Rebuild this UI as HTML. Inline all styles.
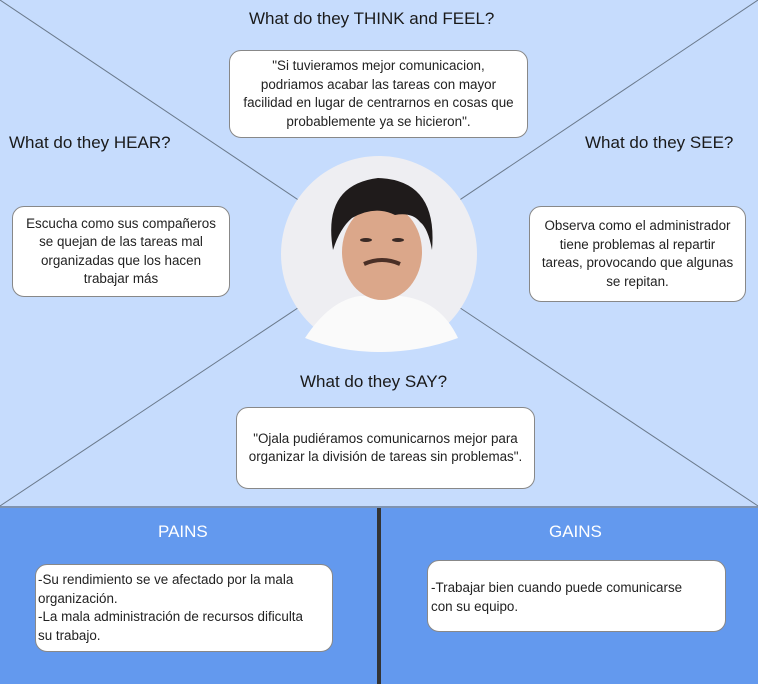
<!DOCTYPE html>
<html><head><style>
body{margin:0;width:758px;height:684px;overflow:hidden;font-family:"Liberation Sans",sans-serif;}
.t{position:absolute;font-size:17px;color:#1a1a1a;white-space:nowrap}
.b{position:absolute;background:#fff;border:1px solid #888;border-radius:12px;box-sizing:border-box;font-size:13.4px;color:#222;line-height:18.5px;display:flex;align-items:center;justify-content:center;text-align:center;white-space:nowrap}
.w{position:absolute;font-size:17px;color:#fff}
</style></head><body>
<div style="position:absolute;left:0;top:0;width:758px;height:508px;background:#c6dcfd;border-bottom:2px solid #7f93b0;box-sizing:border-box"></div>
<svg style="position:absolute;left:0;top:0" width="758" height="684">
<line x1="0" y1="0" x2="379" y2="254" stroke="#6b7a8c" stroke-width="1"/>
<line x1="758" y1="0" x2="379" y2="254" stroke="#6b7a8c" stroke-width="1"/>
<line x1="0" y1="506" x2="379" y2="254" stroke="#6b7a8c" stroke-width="1"/>
<line x1="758" y1="506" x2="379" y2="254" stroke="#6b7a8c" stroke-width="1"/>
<circle cx="379" cy="254" r="98" fill="#eeeef2"/>
<path d="M305 338 Q330 300 360 296 L400 296 Q440 300 458 338 Q420 352 379 352 Q340 352 305 338Z" fill="#fafafa"/>
<ellipse cx="382" cy="252" rx="40" ry="48" fill="#dba78a"/>
<path d="M333 250 Q322 185 378 178 Q438 180 432 250 Q428 228 420 222 Q412 212 395 215 Q375 205 352 218 Q340 228 333 250Z" fill="#1f1b1b"/>
<ellipse cx="366" cy="240" rx="6" ry="2" fill="#3a2a25"/>
<ellipse cx="398" cy="240" rx="6" ry="2" fill="#3a2a25"/>
<path d="M364 264 Q382 256 400 264" stroke="#4a2f26" stroke-width="4" fill="none"/>
</svg>
<div style="position:absolute;left:0;top:508px;width:758px;height:176px;background:#6399ee"></div>
<div style="position:absolute;left:377px;top:508px;width:4px;height:176px;background:#333"></div>
<div class="t" style="left:249px;top:9px">What do they THINK and FEEL?</div>
<div class="t" style="left:9px;top:133px">What do they HEAR?</div>
<div class="t" style="left:585px;top:133px">What do they SEE?</div>
<div class="t" style="left:300px;top:372px">What do they SAY?</div>
<div class="b" style="left:229px;top:50px;width:299px;height:88px">"Si tuvieramos mejor comunicacion,<br>podriamos acabar las tareas con mayor<br>facilidad en lugar de centrarnos en cosas que<br>probablemente ya se hicieron".</div>
<div class="b" style="left:12px;top:206px;width:218px;height:91px">Escucha como sus compañeros<br>se quejan de las tareas mal<br>organizadas que los hacen<br>trabajar más</div>
<div class="b" style="left:529px;top:206px;width:217px;height:96px">Observa como el administrador<br>tiene problemas al repartir<br>tareas, provocando que algunas<br>se repitan.</div>
<div class="b" style="left:236px;top:407px;width:299px;height:82px">"Ojala pudiéramos comunicarnos mejor para<br>organizar la división de tareas sin problemas".</div>
<div class="w" style="left:158px;top:522px">PAINS</div>
<div class="w" style="left:549px;top:522px">GAINS</div>
<div class="b" style="left:35px;top:564px;width:298px;height:88px;justify-content:flex-start;text-align:left;padding-left:2px">-Su rendimiento se ve afectado por la mala<br>organización.<br>-La mala administración de recursos dificulta<br>su trabajo.</div>
<div class="b" style="left:427px;top:560px;width:299px;height:72px;justify-content:flex-start;align-items:flex-start;text-align:left;padding:18px 0 0 3px">-Trabajar bien cuando puede comunicarse<br>con su equipo.</div>
</body></html>
